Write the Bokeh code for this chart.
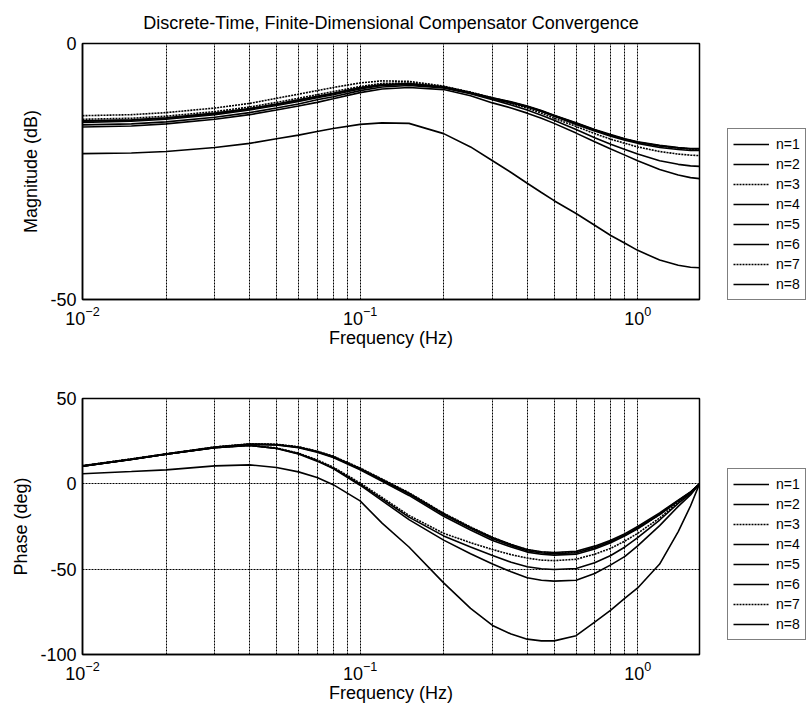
from bokeh.plotting import figure
from bokeh.models import Legend, LegendItem, FixedTicker, Range1d, LogTickFormatter
from bokeh.layouts import column
from bokeh.embed import file_html
from bokeh.resources import INLINE

FONT = "Liberation Sans"

title_text = "Discrete-Time, Finite-Dimensional Compensator Convergence"
labels = ["n=1", "n=2", "n=3", "n=4", "n=5", "n=6", "n=7", "n=8"]
dashes = ["solid", "solid", "2 1", "solid", "solid", "solid", "2 1", "solid"]

freq = [0.01, 0.015, 0.02, 0.03, 0.04, 0.05, 0.06, 0.07, 0.08, 0.1, 0.12, 0.15,
        0.2, 0.25, 0.3, 0.35, 0.4, 0.45, 0.5, 0.6, 0.7, 0.8, 0.9, 1.0, 1.2, 1.4, 1.55, 1.67]

mag_n1 = [-21.5, -21.4, -21.1, -20.3, -19.5, -18.6, -17.9, -17.2, -16.6, -15.8, -15.5, -15.6, -17.6, -20.2, -22.9,
          -25.2, -27.3, -29.1, -30.7, -33.2, -35.5, -37.5, -39.0, -40.4, -42.3, -43.3, -43.7, -43.8]
mag_n2 = [-16.3, -16.1, -15.7, -14.8, -13.9, -13.0, -12.2, -11.5, -10.8, -9.6, -8.9, -8.6, -9.0, -10.2, -11.6,
          -12.6, -13.6, -14.6, -15.6, -17.5, -19.2, -20.6, -21.8, -22.9, -24.6, -25.7, -26.2, -26.4]
mag_n3 = [-14.1, -13.9, -13.5, -12.6, -11.7, -10.7, -9.9, -9.2, -8.6, -7.7, -7.3, -7.4, -8.3, -9.6, -10.8,
          -11.7, -12.6, -13.6, -14.6, -16.2, -17.6, -18.7, -19.5, -20.2, -21.1, -21.6, -21.8, -21.9]
mag_n4 = [-15.9, -15.7, -15.3, -14.4, -13.5, -12.6, -11.8, -11.0, -10.4, -9.2, -8.5, -8.2, -8.7, -9.8, -11.0,
          -12.0, -13.0, -14.0, -15.0, -16.8, -18.4, -19.7, -20.7, -21.6, -22.9, -23.6, -23.9, -24.0]
mag_n5 = [-15.4, -15.2, -14.8, -13.9, -13.0, -12.1, -11.3, -10.6, -10.0, -8.9, -8.2, -8.0, -8.6, -9.7, -10.8,
          -11.6, -12.4, -13.3, -14.2, -15.8, -17.1, -18.1, -18.9, -19.5, -20.3, -20.7, -20.9, -20.9]
mag_n6 = [-15.2, -15.0, -14.6, -13.7, -12.8, -11.9, -11.1, -10.4, -9.8, -8.7, -8.1, -7.9, -8.5, -9.6, -10.7,
          -11.5, -12.3, -13.2, -14.1, -15.6, -16.9, -17.9, -18.7, -19.3, -20.0, -20.4, -20.6, -20.6]
mag_n7 = [-14.8, -14.6, -14.2, -13.3, -12.4, -11.5, -10.7, -10.0, -9.4, -8.4, -7.8, -7.7, -8.4, -9.5, -10.6,
          -11.5, -12.3, -13.2, -14.1, -15.6, -16.9, -17.9, -18.7, -19.3, -20.0, -20.4, -20.6, -20.6]
mag_n8 = [-15.1, -14.9, -14.5, -13.6, -12.7, -11.8, -11.0, -10.3, -9.7, -8.6, -8.0, -7.8, -8.5, -9.6, -10.6,
          -11.4, -12.2, -13.1, -14.0, -15.5, -16.8, -17.8, -18.6, -19.2, -19.9, -20.3, -20.5, -20.5]

ph_n1 = [5.9, 7.2, 8.2, 10.5, 11.1, 9.6, 7.0, 3.7, -0.5, -10.0, -23.0, -37.0, -58.0, -73.0, -83.0,
         -88.0, -91.0, -92.0, -92.0, -89.0, -81.0, -74.0, -67.0, -61.0, -47.0, -28.0, -13.0, 0.0]
ph_n2 = [10.4, 14.3, 17.3, 21.1, 22.5, 20.7, 17.5, 13.3, 8.9, -0.8, -9.8, -21.0, -33.0, -41.0, -47.0,
         -51.5, -55.0, -56.5, -57.0, -56.5, -52.5, -47.5, -42.5, -36.3, -24.5, -13.2, -6.5, 0.0]
ph_n3 = [10.5, 14.4, 17.4, 21.2, 22.6, 21.0, 18.0, 14.0, 9.8, 0.5, -8.0, -18.5, -29.0, -34.5, -38.5,
         -41.5, -43.5, -44.7, -45.0, -44.2, -41.2, -37.8, -33.5, -29.0, -20.0, -10.8, -5.4, 0.0]
ph_n4 = [10.4, 14.3, 17.3, 21.1, 22.5, 20.8, 17.7, 13.6, 9.3, -0.2, -8.8, -19.5, -30.5, -37.0, -42.0,
         -46.0, -48.6, -49.8, -50.2, -49.6, -46.2, -42.0, -37.0, -31.5, -21.2, -11.4, -5.7, 0.0]
ph_n5 = [10.4, 14.3, 17.3, 21.3, 23.1, 22.8, 21.2, 18.5, 15.4, 8.2, 1.5, -6.8, -19.0, -27.0, -33.2,
         -37.0, -40.0, -41.3, -41.8, -41.2, -38.2, -34.5, -30.5, -26.3, -18.0, -10.0, -5.0, 0.0]
ph_n6 = [10.4, 14.4, 17.4, 21.4, 23.2, 22.9, 21.4, 18.8, 15.8, 8.7, 2.1, -6.0, -18.0, -26.0, -32.2,
         -36.2, -39.2, -40.5, -41.0, -40.4, -37.5, -33.8, -30.0, -25.8, -17.6, -9.8, -4.9, 0.0]
ph_n7 = [10.6, 14.6, 17.6, 21.6, 23.4, 23.2, 21.7, 19.2, 16.2, 9.3, 2.8, -5.2, -17.2, -25.3, -31.4,
         -35.5, -38.6, -40.0, -40.5, -40.0, -37.2, -33.8, -30.0, -26.0, -18.0, -10.2, -5.1, 0.0]
ph_n8 = [10.5, 14.5, 17.5, 21.5, 23.3, 23.0, 21.5, 19.0, 16.0, 9.0, 2.5, -5.5, -17.5, -25.5, -31.5,
         -35.5, -38.5, -39.8, -40.2, -39.5, -36.5, -33.0, -29.2, -25.0, -17.0, -9.5, -4.8, 0.0]

mag_series = [mag_n1, mag_n2, mag_n3, mag_n4, mag_n5, mag_n6, mag_n7, mag_n8]
ph_series = [ph_n1, ph_n2, ph_n3, ph_n4, ph_n5, ph_n6, ph_n7, ph_n8]

mag_ticks = [-50, 0]
ph_ticks = [-100, -50, 0, 50]

x_major = [0.01, 0.1, 1.0]
x_minor = [m * d for d in (0.01, 0.1, 1.0) for m in range(2, 10) if m * d <= 1.67]


def make_panel(series, ylabel, yr, yticks, title, border_top, border_bottom, legend_y):
    p = figure(frame_width=617, frame_height=256, x_axis_type="log",
               x_range=Range1d(0.01, 1.67), y_range=Range1d(*yr),
               output_backend="svg", toolbar_location=None,
               min_border_left=82, min_border_right=0,
               min_border_top=border_top, min_border_bottom=border_bottom,
               title=title)
    p.background_fill_color = "white"
    p.border_fill_color = "white"
    p.outline_line_color = "black"
    p.outline_line_width = 1.5
    p.outline_line_alpha = 1.0
    if title:
        p.title.align = "center"
        p.title.text_font = FONT
        p.title.text_font_size = "18px"
        p.title.text_font_style = "normal"
        p.title.text_color = "black"
        p.title.standoff = 21

    xt = FixedTicker(ticks=x_major, minor_ticks=x_minor)
    p.xaxis.ticker = xt
    p.xaxis.formatter = LogTickFormatter()
    p.yaxis.ticker = FixedTicker(ticks=yticks)
    p.yaxis.major_label_overrides = {t: str(t) for t in yticks}
    for ax in (p.xaxis[0], p.yaxis[0]):
        ax.axis_line_color = "black"
        ax.axis_line_width = 1.5
        ax.major_tick_in = 0
        ax.major_tick_out = 0
        ax.minor_tick_in = 0
        ax.minor_tick_out = 0
        ax.major_label_text_font = FONT
        ax.major_label_text_font_size = "18px"
        ax.major_label_text_color = "black"
        ax.axis_label_text_font = FONT
        ax.axis_label_text_font_size = "18px"
        ax.axis_label_text_font_style = "normal"
        ax.axis_label_text_color = "black"
    p.xaxis.axis_label = "Frequency (Hz)"
    p.yaxis.axis_label = ylabel
    p.xaxis.major_label_standoff = 6
    p.xaxis.axis_label_standoff = 0
    p.yaxis.major_label_standoff = 6
    p.yaxis.axis_label_standoff = 6

    p.xgrid.ticker = xt
    p.xgrid.grid_line_color = "black"
    p.xgrid.grid_line_dash = "2 1"
    p.xgrid.grid_line_width = 1
    p.xgrid.minor_grid_line_color = "black"
    p.xgrid.minor_grid_line_dash = "2 1"
    p.xgrid.minor_grid_line_width = 1
    p.ygrid.ticker = FixedTicker(ticks=yticks)
    p.ygrid.grid_line_color = "black"
    p.ygrid.grid_line_dash = "2 1"
    p.ygrid.grid_line_width = 1

    items = []
    for lab, ys, dash in zip(labels, series, dashes):
        r = p.line(freq, ys, line_color="black", line_width=1.6, line_dash=dash)
        items.append(LegendItem(label=lab, renderers=[r]))

    leg = Legend(items=items, location=(28, legend_y))
    leg.border_line_color = "black"
    leg.border_line_width = 1.5
    leg.background_fill_color = "white"
    leg.background_fill_alpha = 1.0
    leg.label_text_font = FONT
    leg.label_text_font_size = "14px"
    leg.label_text_color = "black"
    leg.glyph_width = 36
    leg.glyph_height = 20
    leg.label_height = 20
    leg.label_standoff = 7
    leg.spacing = 0
    leg.padding = 5
    leg.margin = 0
    p.add_layout(leg, "right")
    return p


p1 = make_panel(mag_series, "Magnitude (dB)", (-50, 0), mag_ticks, title_text, 43, 56, -1)
p2 = make_panel(ph_series, "Phase (deg)", (-100, 50), ph_ticks, None, 43, 45, 14)

layout = column(p1, p2, spacing=0)
open("out.html", "w").write(file_html(layout, INLINE))
